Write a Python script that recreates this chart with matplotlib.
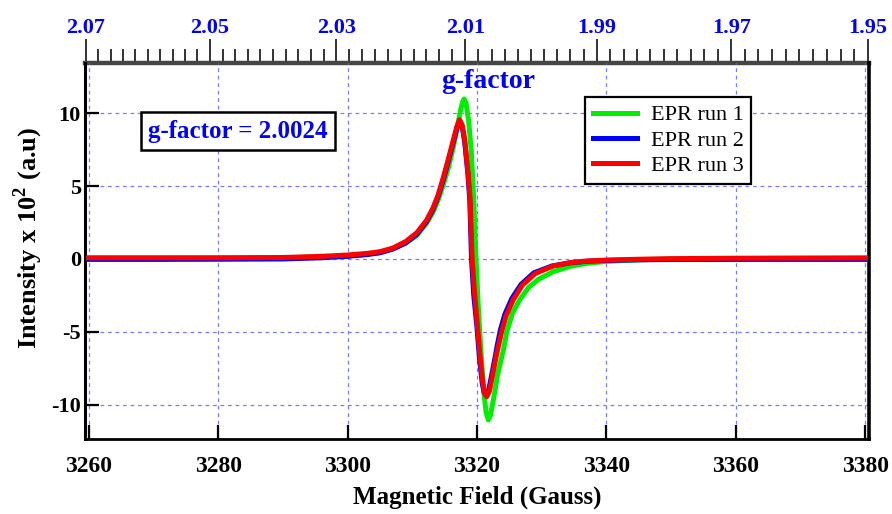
import numpy as np
import matplotlib
matplotlib.use("Agg")
import matplotlib.pyplot as plt
from matplotlib.ticker import FixedLocator, FormatStrFormatter, MultipleLocator

plt.rcParams['font.family'] = 'Liberation Serif'
plt.rcParams['mathtext.fontset'] = 'custom'
plt.rcParams['mathtext.rm'] = 'Liberation Serif'
plt.rcParams['mathtext.bf'] = 'Liberation Serif:bold'
plt.rcParams['axes.unicode_minus'] = False

# ---------------- data ----------------
run1_B = [3260, 3270, 3280, 3290, 3296, 3300, 3303, 3305, 3307, 3309, 3310.7, 3312.2,
          3313.2, 3314.0, 3314.8, 3315.6, 3316.3, 3316.9, 3317.4, 3317.8, 3318.0, 3318.3,
          3318.7, 3319.1, 3319.5, 3319.85, 3320.2, 3320.6, 3321.0, 3321.4, 3321.75, 3322.1,
          3322.6, 3323.2, 3324.1, 3324.6, 3325.5, 3326.6, 3328.0, 3329.5, 3331.8, 3334.5,
          3337, 3340, 3345, 3350, 3360, 3370, 3380]
run1_I = [0.05, 0.05, 0.06, 0.08, 0.14, 0.22, 0.32, 0.45, 0.7, 1.1, 1.6, 2.45,
          3.2, 4.05, 5.1, 6.3, 7.6, 8.9, 10.1, 10.8, 10.97, 10.7,
          9.5, 7.5, 4.0, 0.0, -3.3, -6.3, -8.9, -10.5, -11.04, -10.7,
          -9.5, -7.9, -6.2, -5.0, -3.7, -2.8, -1.95, -1.4, -0.87, -0.5,
          -0.3, -0.17, -0.06, 0.0, 0.03, 0.04, 0.05]

run2_B = [3260, 3270, 3280, 3290, 3296, 3300, 3303, 3305, 3307, 3309, 3310.7, 3312.2,
          3313.2, 3314.0, 3314.8, 3315.6, 3316.3, 3316.9, 3317.3, 3317.7, 3318.1, 3318.6,
          3318.9, 3319.15, 3319.5, 3320.0, 3320.4, 3320.8, 3321.1, 3321.4, 3321.8, 3322.3,
          3322.9, 3323.1, 3323.6, 3324.3, 3325.4, 3326.8, 3328.8, 3331.6, 3334.5, 3337,
          3340, 3345, 3350, 3360, 3370, 3380]
run2_I = [-0.03, -0.03, -0.02, 0.0, 0.08, 0.18, 0.3, 0.42, 0.68, 1.1, 1.7, 2.55,
          3.4, 4.3, 5.45, 6.75, 7.95, 8.95, 9.4, 9.1, 8.0, 5.8,
          3.9, 0.0, -2.5, -4.7, -6.9, -8.5, -9.15, -9.35, -9.0, -7.9,
          -6.5, -6.0, -4.9, -3.8, -2.7, -1.75, -0.95, -0.48, -0.26, -0.16,
          -0.1, -0.06, -0.04, -0.03, -0.03, -0.03]

run3_B = [3260, 3270, 3280, 3290, 3296, 3300, 3303, 3305, 3307, 3309, 3310.7, 3312.2,
          3313.2, 3314.0, 3314.8, 3315.6, 3316.3, 3316.9, 3317.3, 3317.7, 3318.1, 3318.6,
          3318.9, 3319.25, 3319.6, 3320.05, 3320.5, 3320.9, 3321.2, 3321.5, 3321.9, 3322.4,
          3323.0, 3323.3, 3323.8, 3324.5, 3325.6, 3327.0, 3329.0, 3331.8, 3334.5, 3337,
          3340, 3345, 3350, 3360, 3370, 3380]
run3_I = [0.08, 0.08, 0.08, 0.1, 0.18, 0.27, 0.38, 0.5, 0.75, 1.2, 1.8, 2.65,
          3.5, 4.4, 5.6, 6.9, 8.1, 9.1, 9.55, 9.2, 8.2, 6.0,
          4.3, 0.0, -2.2, -4.5, -6.8, -8.5, -9.2, -9.45, -9.1, -8.0,
          -6.6, -6.0, -5.0, -3.9, -2.8, -1.8, -1.0, -0.48, -0.25, -0.14,
          -0.08, -0.02, 0.02, 0.05, 0.06, 0.07]

run_labels = ['EPR run 1', 'EPR run 2', 'EPR run 3']
run_colors = ['#00ee00', '#0000ff', '#ff0000']

x_ticks = [3260, 3280, 3300, 3320, 3340, 3360, 3380]
y_ticks = [-10, -5, 0, 5, 10]
g_ticks = [2.07, 2.05, 2.03, 2.01, 1.99, 1.97, 1.95]

# top axis: g-value, linear in 1/g
B_left, g_left = 3259.55, 2.07
B_right, g_right = 3380.48, 1.95
slope = (1 / g_right - 1 / g_left) / (B_right - B_left)
icpt = 1 / g_left - slope * B_left


def field_to_g(B):
    B = np.asarray(B, dtype=float)
    with np.errstate(divide='ignore', invalid='ignore'):
        return 1.0 / (icpt + slope * B)


def g_to_field(g):
    g = np.asarray(g, dtype=float)
    with np.errstate(divide='ignore', invalid='ignore'):
        return (1.0 / g - icpt) / slope


# ---------------- figure ----------------
fig = plt.figure(figsize=(8.92, 5.14), dpi=100)
ax = fig.add_axes([85 / 892, 1 - 439 / 514, 784 / 892, 376 / 514])

ax.plot(run1_B, run1_I, color=run_colors[0], lw=3.6, label=run_labels[0], zorder=3)
ax.plot(run2_B, run2_I, color=run_colors[1], lw=3.6, label=run_labels[1], zorder=4)
ax.plot(run3_B, run3_I, color=run_colors[2], lw=3.6, label=run_labels[2], zorder=5)

ax.set_xlim(3259.4, 3380.6)
ax.set_ylim(-12.35, 13.44)
ax.set_xticks(x_ticks)
ax.set_yticks(y_ticks)
ax.grid(True, color='#7b7bff', linestyle=(0, (3, 3)), linewidth=0.9)

for lab in ax.get_xticklabels() + ax.get_yticklabels():
    lab.set_fontweight('bold')
ax.tick_params(axis='x', direction='in', length=10, width=1.6, pad=12, labelsize=17)
ax.tick_params(axis='y', direction='in', length=10, width=1.6, pad=3, labelsize=16)
ax.tick_params(top=False, right=False)

ax.spines['top'].set_visible(False)
ax.spines['left'].set_linewidth(2.2)
ax.spines['bottom'].set_linewidth(2.0)
ax.spines['right'].set_linewidth(2.6)

ax.set_xlabel('Magnetic Field (Gauss)', fontsize=18, fontweight='bold')
ax.xaxis.set_label_coords(0.5, -0.125)
ax.set_ylabel(r'Intensity x 10$^{\mathbf{2}}$ (a.u)', fontsize=19, fontweight='bold')
ax.yaxis.set_label_coords(-0.051, 0.535)

# g-factor axis on top
secax = ax.secondary_xaxis('top', functions=(field_to_g, g_to_field))
secax.xaxis.set_major_locator(FixedLocator(g_ticks))
secax.xaxis.set_minor_locator(MultipleLocator(0.002))
secax.xaxis.set_major_formatter(FormatStrFormatter('%.2f'))
secax.tick_params(which='major', direction='out', length=17, width=1.4,
                  color='#333333', labelcolor='#0000ff', labelsize=16, pad=1)
secax.tick_params(which='minor', direction='out', length=10, width=1.4, color='#333333')
for lab in secax.get_xticklabels():
    lab.set_fontweight('bold')
secax.spines['top'].set_linewidth(3.2)
secax.spines['top'].set_color('#444444')

fig.text(488 / 892, 1 - 81 / 514, 'g-factor', color='#0000ff', fontsize=20,
         fontweight='bold', ha='center', va='center')

ax.text(0.195, 0.819, 'g-factor = 2.0024', transform=ax.transAxes, color='#0000ff',
        fontsize=18, fontweight='bold', ha='center', va='center', zorder=6,
        bbox=dict(boxstyle='square,pad=0.3', fc='white', ec='black', lw=1.8))

leg = ax.legend(loc='upper left', bbox_to_anchor=(0.638, 0.9096), borderaxespad=0,
                fontsize=16, fancybox=False, edgecolor='black', framealpha=1,
                handlelength=2.0, handletextpad=0.6, labelspacing=0.22, borderpad=0.35)
leg.get_frame().set_linewidth(1.6)
leg.set_zorder(7)

fig.savefig('out.png', dpi=100)
